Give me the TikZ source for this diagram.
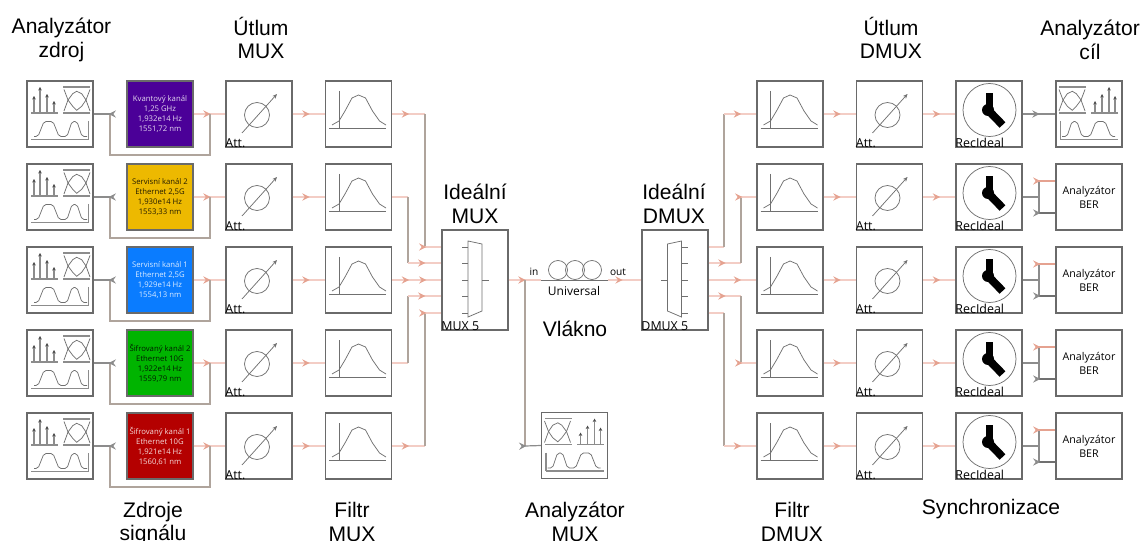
\documentclass[tikz,border=0pt]{standalone}
\usepackage{fontspec}
\setmainfont{Liberation Sans}
\newfontfamily\boxfont{Open Sans}
\usetikzlibrary{arrows.meta,decorations.markings}
\definecolor{boxgrey}{HTML}{6A6A6A}
\definecolor{icongrey}{HTML}{707070}
\definecolor{optline}{HTML}{F3CDC5}
\definecolor{opttip}{HTML}{E5A290}
\definecolor{backline}{HTML}{AFA49C}
\definecolor{elecline}{HTML}{8C8C8C}
\definecolor{chanpurple}{HTML}{4B0098}
\definecolor{chanyellow}{HTML}{EDB900}
\definecolor{chanblue}{HTML}{0A7CFF}
\definecolor{changreen}{HTML}{00B400}
\definecolor{chanred}{HTML}{B40000}
\tikzset{sigtip/.tip={Stealth[length=5.5pt,width=5.5pt,inset=2pt]},
  blockbox/.style={draw=boxgrey,fill=white,line width=.8pt,minimum width=49.5pt,minimum height=49.5pt,inner sep=0pt},
  chanbox/.style={blockbox,font=\boxfont\fontsize{5.8}{7.5}\selectfont,align=center},
  berbox/.style={blockbox,font=\boxfont\fontsize{8}{10.5}\selectfont,align=center},
  title/.style={font=\fontsize{15.8}{17.6}\selectfont,align=center,inner sep=0pt},
  cornerlabel/.style={font=\boxfont\fontsize{9.3}{10}\selectfont,anchor=south west,inner sep=0pt,outer sep=0pt},
  fibrelabel/.style={font=\boxfont\fontsize{7.6}{9}\selectfont,inner sep=0pt},
  iconline/.style={draw=icongrey,line width=.55pt},
  optic/.style={draw=optline,line width=.9pt},
  backward/.style={draw=backline,line width=.9pt},
  elec/.style={draw=elecline,line width=.9pt},
  tippink/.style={postaction={decorate,decoration={markings,mark=at position #1 with {\arrow[color=opttip]{sigtip}}}}},
  tipgrey/.style={postaction={decorate,decoration={markings,mark=at position #1 with {\arrow[color=elecline]{sigtip}}}}},
  pics/anaicon/.style={code={
    \draw[iconline,line width=.9pt,draw=elecline] (-29,-.5)--(-2,-.5) (3,-26.5)--(30,-26.5) (3,-.5)--(30,-.5) (-29,26)--(29,26) (28.5,7.5)--(28.5,26);
    \foreach \sx/\st in {-26/-17.5,-20/-26.5,-13/-19.5,-6/-12.5}
      \draw[iconline,line width=.8pt,draw=elecline,-{Stealth[length=2.6pt,width=2.6pt,black!70]}] (\sx,-.5)--(\sx,\st);
    \draw[iconline] (4,-24)--(8,-13.5)--(12.7,-7.2)--(16.7,-3.2)--(21.7,-7.2)--(26,-13.5)--(30,-24);
    \draw[iconline] (4,-2.5)--(8,-13.5)--(12.7,-19.8)--(16.7,-22.2)--(21.7,-19.8)--(26,-13.5)--(30,-2.5);
    \draw[iconline,rounded corners=1.5] (-26,23)--(-22,23)--(-16,8)--(-7,8)--(-1,23)--(7,23)--(12,8)--(17,8)--(22,23)--(27,23);
  }},
  pics/atticon/.style={code={
    \draw[iconline] (-2,1) circle (12.5);
    \draw[iconline,-{Stealth[length=3.5pt,width=3pt]}] (-17,19)--(18,-20);
  }},
  pics/filtericon/.style={code={
    \draw[iconline] (-29.5,14)--(27.5,14) (-19.5,-23)--(-19.5,14);
    \draw[iconline] (-26.5,11)--(-19.5,7)--(-13.5,-3)--(-6.5,-16)--(0,-19)--(7,-16)--(14,-3)--(21,7)--(27.5,11);
  }},
  pics/muxicon/.style={code={
    \draw[iconline] (-7,-39)--(7,-36)--(7,31)--(-7,37)--cycle;
    \foreach \py in {-33,-17,0,16,33} \draw[iconline] (-13,\py)--(-7,\py);
    \draw[iconline] (7,0)--(14,0);
  }},
  pics/recicon/.style={code={
    \draw[iconline] (.5,-4) circle (26.5);
    \fill[black] (-3,-21) rectangle (4,-4);
    \fill[black] (-1,-4) circle (6);
    \draw[black,line width=6pt] (-1,-4)--(13.5,11);
  }}}
\begin{document}
\begin{tikzpicture}[x=.75pt,y=-.75pt]
\useasboundingbox (0,0) rectangle (1141,541);
% titles
\node[title] (tana1) at (61.5,40) {Analyzátor\\zdroj};
\node[title] (tatt1) at (261,38) {Útlum\\MUX};
\node[title] (tatt2) at (891,38) {Útlum\\DMUX};
\node[title] (tana2) at (1090,40) {Analyzátor\\cíl};
\node[title] (tmux) at (475,204) {Ideální\\MUX};
\node[title] (tdmux) at (674,204) {Ideální\\DMUX};
\node[title] (tfibre) at (575,329) {Vlákno};
\node[title] (tsrc) at (153,523.5) {Zdroje\\signálu};
\node[title] (tfil1) at (352,522) {Filtr\\MUX};
\node[title] (tana3) at (575,522) {Analyzátor\\MUX};
\node[title] (tfil2) at (792,522) {Filtr\\DMUX};
\node[title] (tsync) at (991,509) {Synchronizace};
% source rows
\foreach \r/\yy/\col/\tcol/\txt in {
  1/114/chanpurple/white/{Kvantový kanál\\1,25 GHz\\1,932e14 Hz\\1551,72 nm},
  2/197/chanyellow/black/{Servisní kanál 2\\Ethernet 2,5G\\1,930e14 Hz\\1553,33 nm},
  3/280/chanblue/white/{Servisní kanál 1\\Ethernet 2,5G\\1,929e14 Hz\\1554,13 nm},
  4/363/changreen/black/{Šifrovaný kanál 2\\Ethernet 10G\\1,922e14 Hz\\1559,79 nm},
  5/446/chanred/white/{Šifrovaný kanál 1\\Ethernet 10G\\1,921e14 Hz\\1560,61 nm}}{
  \node[blockbox] (ana\r) at (60,\yy) {};
  \pic at (60,\yy-.5) {anaicon};
  \node[chanbox,fill=\col,text=\tcol!85!\col] (sig\r) at (160,\yy) {\txt};
  \node[blockbox] (att\r) at (259,\yy) {};
  \pic at (259,\yy) {atticon};
  \node[cornerlabel] (attlab\r) at (att\r.south west) {Att.};
  \node[blockbox] (fil\r) at (358.5,\yy) {};
  \pic at (358.5,\yy) {filtericon};
  \coordinate (back\r) at (210,\yy);
  \coordinate (join\r) at (110,\yy);
  \draw[optic,tippink=12.75pt] (sig\r.east)--(att\r.west);
  \draw[backward] (back\r)--(210,\yy+41)--(110,\yy+41)--(join\r);
  \draw[elec,tipgrey=1pt] (join\r)--(ana\r.east);
  \draw[optic,tippink=12.75pt] (att\r.east)--(fil\r.west);
}
% multiplexers
\node[blockbox,minimum height=75pt] (mux) at (475,280) {};
\pic at (475,280) {muxicon};
\node[cornerlabel] (muxlab) at (mux.south west) {MUX 5};
\node[blockbox,minimum height=75pt] (dmux) at (675,280) {};
\pic[xscale=-1] at (674.5,280) {muxicon};
\node[cornerlabel] (dmuxlab) at (dmux.south west) {DMUX 5};
\foreach \r/\yy/\py/\vx/\tp in {1/114/247/425/1pt,2/197/263/408/13pt,3/280/280/425/1pt,4/363/296/408/13pt,5/446/313/425/1pt}{
  \coordinate (muxin\r) at (mux.west |- 0,\py);
  \draw[optic,tippink=12.75pt] (fil\r.east)--(\vx,\yy);
  \draw[backward] (\vx,\yy)--(\vx,\py);
  \draw[optic,tippink=\tp] (\vx,\py)--(muxin\r);
}
% fibre
\coordinate (fibin) at (541,280);
\coordinate (fibout) at (608,280);
\draw[optic,tippink=12.75pt] (mux.east)--(fibin);
\draw[iconline] (fibin)--(fibout);
\foreach \fx in {558,575,592} \draw[iconline] (\fx,270) circle (9.5);
\draw[optic,tippink=11pt] (fibout)--(dmux.west);
\node[fibrelabel] (fibinlab) at (534,272) {in};
\node[fibrelabel] (fiboutlab) at (618,272) {out};
\node[fibrelabel,font=\boxfont\fontsize{9}{10}\selectfont] (fibname) at (574,291) {Universal};
\node[blockbox] (ana6) at (574.5,445.5) {};
\pic[xscale=-1] at (574.5,445) {anaicon};
\coordinate (tap) at (525,280);
\coordinate (tapend) at (525,446);
\draw[backward] (tap)--(tapend);
\draw[elec,tipgrey=1pt] (tapend)--(ana6.west);
% receiver rows
\foreach \r/\yy/\py/\vx/\tp in {1/114/247/724/12.75pt,2/197/263/741/1pt,3/280/280/724/12.75pt,4/363/296/741/1pt,5/446/313/724/12.75pt}{
  \node[blockbox] (rfil\r) at (790,\yy) {};
  \pic at (790,\yy) {filtericon};
  \node[blockbox] (ratt\r) at (889.5,\yy) {};
  \pic at (889.5,\yy) {atticon};
  \node[cornerlabel] (rattlab\r) at (ratt\r.south west) {Att.};
  \node[blockbox] (rec\r) at (989,\yy) {};
  \pic at (989,\yy) {recicon};
  \node[cornerlabel] (reclab\r) at (rec\r.south west) {RecIdeal};
  \coordinate (dmuxout\r) at (dmux.east |- 0,\py);
  \draw[optic,tippink=12.75pt] (dmuxout\r)--(\vx,\py);
  \draw[backward] (\vx,\py)--(\vx,\yy);
  \draw[optic,tippink=\tp] (\vx,\yy)--(rfil\r.west);
  \draw[optic,tippink=12.75pt] (rfil\r.east)--(ratt\r.west);
  \draw[optic,tippink=12.75pt] (ratt\r.east)--(rec\r.west);
}
\node[blockbox] (ana7) at (1089,114) {};
\pic[xscale=-1] at (1089,113.5) {anaicon};
\draw[elec,tipgrey=12.75pt] (rec1.east)--(ana7.west);
\foreach \r/\yy in {2/197,3/280,4/363,5/446}{
  \node[berbox] (ber\r) at (1089,\yy) {Analyzátor\\BER};
  \coordinate (tee\r) at (1039,\yy);
  \draw[elec,tipgrey=12.75pt] (rec\r.east)--(tee\r);
  \draw[elec] (1039,\yy-16)--(1039,\yy+16);
  \draw[optic,tippink=1pt,draw=opttip] (1039,\yy-16)--(ber\r.west |- 0,\yy-16);
  \draw[elec,tipgrey=1pt,draw=icongrey] (1039,\yy+16)--(ber\r.west |- 0,\yy+16);
}
\end{tikzpicture}
\end{document}
